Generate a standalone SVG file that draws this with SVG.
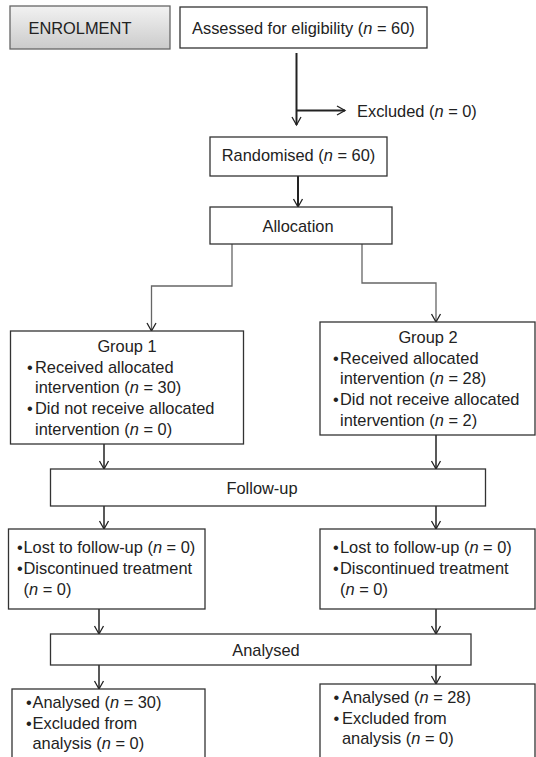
<svg xmlns="http://www.w3.org/2000/svg" width="536" height="757" viewBox="0 0 536 757">
<defs>
<linearGradient id="gray" x1="0" y1="0" x2="0" y2="1">
<stop offset="0" stop-color="#f2f2f2"/>
<stop offset="1" stop-color="#cbcbcb"/>
</linearGradient>
<marker id="ah" markerUnits="userSpaceOnUse" markerWidth="12" markerHeight="12" refX="8" refY="4.5" orient="auto" overflow="visible">
<path d="M0,0 L8,4.5 L0,9" fill="none" stroke="#222" stroke-width="1.3"/>
</marker>
</defs>
<style>
text{font-family:"Liberation Sans",Arial,sans-serif;font-size:16.4px;fill:#222}
.c{text-anchor:middle}
.i{font-style:italic}
.box{fill:#fff;stroke:#333;stroke-width:1.3}
.ln{fill:none;stroke:#222;stroke-width:1.5}
.th{fill:none;stroke:#222;stroke-width:2}
.gr{fill:none;stroke:#666;stroke-width:1.3}
</style>
<rect width="536" height="757" fill="#fff"/>
<g id="connectors">
<path class="th" d="M296.5,53 V125" marker-end="url(#ah)"/>
<path class="th" d="M296.5,110.5 H345" marker-end="url(#ah)"/>
<path class="th" d="M298,176 V207" marker-end="url(#ah)"/>
<path class="gr" d="M232,244 V286 H151.5 V331" marker-end="url(#ah)"/>
<path class="gr" d="M362,244 V283 H436 V322" marker-end="url(#ah)"/>
<path class="ln" d="M104,444 V469" marker-end="url(#ah)"/>
<path class="ln" d="M436,435 V469" marker-end="url(#ah)"/>
<path class="ln" d="M104,506 V529" marker-end="url(#ah)"/>
<path class="ln" d="M436,506 V529" marker-end="url(#ah)"/>
<path class="ln" d="M99,609 V634" marker-end="url(#ah)"/>
<path class="ln" d="M436,609 V634" marker-end="url(#ah)"/>
<path class="ln" d="M99,665 V689" marker-end="url(#ah)"/>
<path class="ln" d="M436,665 V684" marker-end="url(#ah)"/>
</g>
<g id="enrolment">
<rect x="10" y="6" width="160" height="43" fill="url(#gray)" stroke="#666" stroke-width="1.3"/>
<text x="28.5" y="33.5">ENROLMENT</text>
</g>
<g id="assessed">
<rect class="box" x="180" y="7" width="247" height="41"/>
<text x="192" y="33.5">Assessed for eligibility (<tspan class="i">n</tspan> = 60)</text>
</g>
<g id="excluded">
<text x="357" y="116.5">Excluded (<tspan class="i">n</tspan> = 0)</text>
</g>
<g id="randomised">
<rect class="box" x="210" y="137" width="177" height="39"/>
<text class="c" x="298.5" y="161">Randomised (<tspan class="i">n</tspan> = 60)</text>
</g>
<g id="allocation">
<rect class="box" x="210" y="207" width="182" height="37"/>
<text class="c" x="298" y="231.5">Allocation</text>
</g>
<g id="group1">
<rect class="box" x="10.5" y="331" width="233" height="113"/>
<text class="c" x="127" y="352">Group 1</text>
<text x="27" y="372.5">•</text>
<text x="35" y="372.5">Received allocated</text>
<text x="35" y="393.3">intervention (<tspan class="i">n</tspan> = 30)</text>
<text x="27" y="414">•</text>
<text x="35" y="414">Did not receive allocated</text>
<text x="35" y="434.8">intervention (<tspan class="i">n</tspan> = 0)</text>
</g>
<g id="group2">
<rect class="box" x="320" y="322" width="215" height="113"/>
<text class="c" x="428" y="343">Group 2</text>
<text x="333" y="363.5">•</text>
<text x="340" y="363.5">Received allocated</text>
<text x="340" y="384.3">intervention (<tspan class="i">n</tspan> = 28)</text>
<text x="333" y="405">•</text>
<text x="340" y="405">Did not receive allocated</text>
<text x="340" y="425.8">intervention (<tspan class="i">n</tspan> = 2)</text>
</g>
<g id="followup">
<rect class="box" x="50.5" y="469" width="435" height="37"/>
<text class="c" x="262" y="493.5">Follow-up</text>
</g>
<g id="lost1">
<rect class="box" x="8.5" y="529" width="196.5" height="80"/>
<text x="17" y="553">•</text>
<text x="23.5" y="553">Lost to follow-up (<tspan class="i">n</tspan> = 0)</text>
<text x="17" y="574">•</text>
<text x="23.5" y="574">Discontinued treatment</text>
<text x="23.5" y="595">(<tspan class="i">n</tspan> = 0)</text>
</g>
<g id="lost2">
<rect class="box" x="320" y="529" width="215" height="80"/>
<text x="333" y="553">•</text>
<text x="340" y="553">Lost to follow-up (<tspan class="i">n</tspan> = 0)</text>
<text x="333" y="574">•</text>
<text x="340" y="574">Discontinued treatment</text>
<text x="340" y="595">(<tspan class="i">n</tspan> = 0)</text>
</g>
<g id="analysed">
<rect class="box" x="50.5" y="634" width="420.5" height="31"/>
<text class="c" x="266" y="655.5">Analysed</text>
</g>
<g id="analysed1">
<rect class="box" x="12" y="689" width="193" height="80"/>
<text x="26" y="708">•</text>
<text x="32.5" y="708">Analysed (<tspan class="i">n</tspan> = 30)</text>
<text x="26" y="728.5">•</text>
<text x="32.5" y="728.5">Excluded from</text>
<text x="32.5" y="749">analysis (<tspan class="i">n</tspan> = 0)</text>
</g>
<g id="analysed2">
<rect class="box" x="320" y="684" width="215" height="85"/>
<text x="333.5" y="703">•</text>
<text x="342" y="703">Analysed (<tspan class="i">n</tspan> = 28)</text>
<text x="333.5" y="723.5">•</text>
<text x="342" y="723.5">Excluded from</text>
<text x="342" y="744">analysis (<tspan class="i">n</tspan> = 0)</text>
</g>
</svg>
